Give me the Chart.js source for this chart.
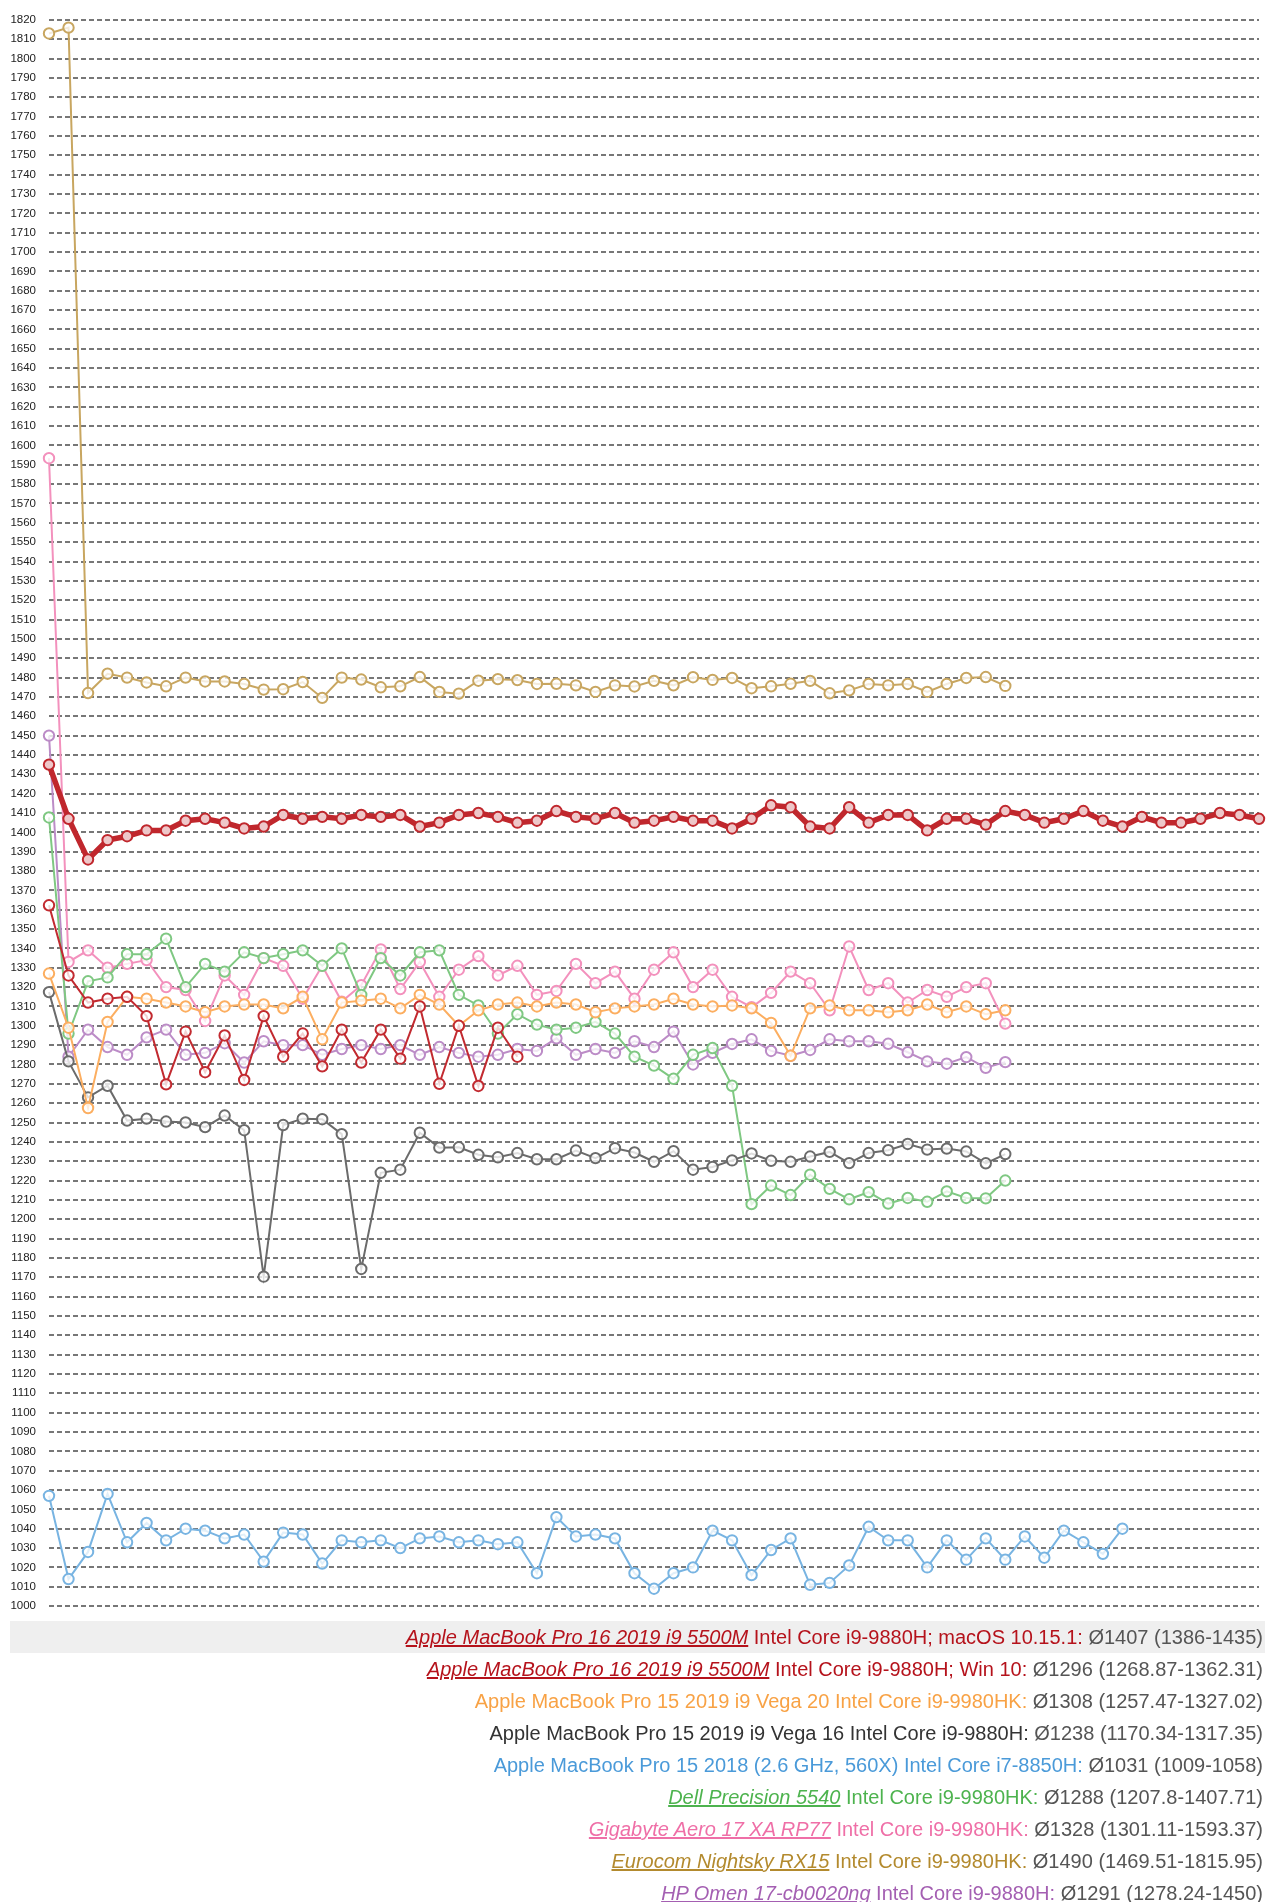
<!DOCTYPE html>
<html>
<head>
<meta charset="utf-8">
<title>Cinebench Schleife</title>
<script src="https://cdn.jsdelivr.net/npm/chart.js@4/dist/chart.umd.min.js"></script>
<style>
    body { margin: 0; background: #fff; font-family: "Liberation Sans", Arial, Helvetica, sans-serif; }
    #chart-box { position: absolute; left: 0; top: 0; width: 1270px; height: 1626px; }
    #leyenda { position: absolute; left: 10px; top: 1621px; width: 1255px; }
    .fila { height: 32px; line-height: 32px; font-size: 20px; text-align: right; padding-right: 2px; white-space: nowrap; }
    .fila.activa { background: #efefef; }
    .fila a { font-style: italic; text-decoration: underline; }
    .fila .media { color: #555; }
</style>
</head>
<body>
<div id="chart-box"><canvas id="grafico"></canvas></div>
<div id="leyenda"></div>

<script>
// eje y
const yMin = 1000;
const yMax = 1820;
const yPaso = 10;

// corridas (eje x oculto)
const corridas = [1, 2, 3, 4, 5, 6, 7, 8, 9, 10, 11, 12, 13, 14, 15, 16, 17, 18, 19, 20,
    21, 22, 23, 24, 25, 26, 27, 28, 29, 30, 31, 32, 33, 34, 35, 36, 37, 38, 39, 40,
    41, 42, 43, 44, 45, 46, 47, 48, 49, 50, 51, 52, 53, 54, 55, 56, 57, 58, 59, 60,
    61, 62, 63];

const mbp16Mac = [1435, 1407, 1386, 1396, 1398, 1401, 1401, 1406, 1407, 1405, 1402, 1403, 1409, 1407, 1408, 1407,
    1409, 1408, 1409, 1403, 1405, 1409, 1410, 1408, 1405, 1406, 1411, 1408, 1407, 1410, 1405, 1406,
    1408, 1406, 1406, 1402, 1407, 1414, 1413, 1403, 1402, 1413, 1405, 1409, 1409, 1401, 1407, 1407,
    1404, 1411, 1409, 1405, 1407, 1411, 1406, 1403, 1408, 1405, 1405, 1407, 1410, 1409, 1407];

const mbp16Win = [1362.3, 1326, 1312, 1314, 1315, 1305, 1269.7, 1297, 1276, 1295, 1272, 1305, 1284,
    1296, 1279, 1298, 1281, 1298, 1283, 1310, 1270, 1300, 1268.9, 1299, 1284];

const mbp15Vega20 = [1327, 1299, 1257.5, 1302, 1315, 1314, 1312, 1310, 1307, 1310, 1311, 1311, 1309, 1315, 1293, 1312,
    1313, 1314, 1309, 1316, 1311, 1300, 1308, 1311, 1312, 1310, 1312, 1311, 1307, 1309, 1310, 1311,
    1314, 1311, 1310, 1310.5, 1309, 1301.5, 1284.5, 1309, 1310.5, 1308, 1308, 1307, 1308, 1311, 1307,
    1310, 1306, 1308];

const mbp15Vega16 = [1317.4, 1281.6, 1263, 1269, 1251, 1252, 1250.5, 1250, 1247.6, 1253.6, 1246, 1170.3, 1248.7,
    1252, 1251.7, 1244, 1174.3, 1224, 1225.6, 1244.7, 1237, 1237.2, 1233.3, 1232, 1234.2, 1231,
    1231, 1235.5, 1231.6, 1236.7, 1234.5, 1229.7, 1235.2, 1225.6, 1227, 1230.4, 1234, 1230.2, 1229.7,
    1232.4, 1234.8, 1229, 1234.2, 1235.7, 1238.9, 1236, 1236.5, 1235, 1228.9, 1233.7];

const mbp15_2018 = [1057, 1014, 1028, 1058, 1033, 1043, 1034, 1040, 1039, 1035, 1037, 1023, 1038, 1037, 1022, 1034,
    1033, 1034, 1030, 1035, 1036, 1033, 1034, 1032, 1033, 1017, 1046, 1036, 1037, 1035, 1017, 1009,
    1017, 1020, 1039, 1034, 1016, 1029, 1035, 1011, 1012, 1021, 1041, 1034, 1034, 1020, 1034, 1024,
    1035, 1024, 1036, 1025, 1039, 1033, 1027, 1040];

const dell5540 = [1407.7, 1296, 1323, 1325, 1337, 1337, 1345, 1320, 1332, 1328, 1338, 1335, 1337, 1339, 1331, 1340,
    1316, 1335, 1326, 1338, 1339, 1316, 1310.5, 1296, 1306, 1300.6, 1298, 1299, 1302, 1296, 1284,
    1279.4, 1272.6, 1285, 1288.5, 1269, 1207.8, 1217.4, 1212.5, 1223, 1215.7, 1210.3, 1214, 1208.1,
    1211, 1209, 1214.4, 1211, 1210.8, 1220];

const aero17 = [1593.4, 1333, 1339, 1330, 1332, 1334, 1320, 1318.5, 1302.5, 1326, 1316, 1335, 1331, 1314, 1331,
    1312.5, 1321, 1339.5, 1319, 1333, 1315, 1329, 1336, 1326, 1331, 1316, 1318, 1332, 1322, 1328,
    1314, 1329, 1338, 1320, 1329, 1315, 1309.6, 1317, 1328, 1322, 1308, 1341, 1318.5, 1322, 1312,
    1318.5, 1315, 1320, 1322, 1301.1];

const nightsky = [1813, 1816, 1472, 1482, 1480, 1477.5, 1475.5, 1480, 1478, 1478, 1476.7, 1473.8, 1474, 1477.7,
    1469.5, 1480, 1479, 1475, 1475.5, 1480.3, 1472.6, 1471.7, 1478.4, 1479.2, 1478.7, 1476.7, 1476.8,
    1476, 1472.6, 1476, 1475.4, 1478.3, 1476, 1480.2, 1478.8, 1479.8, 1474.5, 1475.5, 1476.8, 1478.3,
    1471.9, 1473.4, 1476.7, 1476, 1476.7, 1472.6, 1476.7, 1479.8, 1480.3, 1475.7];

const omen17 = [1450, 1284, 1298, 1289, 1285, 1294, 1298, 1285, 1286, 1291, 1281, 1292, 1290, 1290, 1285, 1288,
    1290, 1288, 1290, 1285, 1289, 1286, 1284, 1285, 1288, 1287, 1293.5, 1285, 1288, 1286, 1292, 1289,
    1297, 1280, 1286, 1290.6, 1293, 1287, 1284.5, 1287.5, 1293, 1292, 1292, 1290.7, 1286.3, 1281.6,
    1280.4, 1283.8, 1278.3, 1281.2];

// series: datos, color de linea, color de texto, partes de la leyenda
const series = [
    { datos: mbp16Mac, linea: '#c0272d', texto: '#b5121b', relleno: '#eec7c9', grosor: 5.5,
      enlace: 'Apple MacBook Pro 16 2019 i9 5500M', resto: ' Intel Core i9-9880H; macOS 10.15.1: ', media: 'Ø1407 (1386-1435)' },
    { datos: mbp16Win, linea: '#c22a30', texto: '#b5121b', grosor: 2,
      enlace: 'Apple MacBook Pro 16 2019 i9 5500M', resto: ' Intel Core i9-9880H; Win 10: ', media: 'Ø1296 (1268.87-1362.31)' },
    { datos: mbp15Vega20, linea: '#fcae60', texto: '#f8a245', grosor: 2,
      enlace: null, resto: 'Apple MacBook Pro 15 2019 i9 Vega 20 Intel Core i9-9980HK: ', media: 'Ø1308 (1257.47-1327.02)' },
    { datos: mbp15Vega16, linea: '#6b6b6b', texto: '#333333', grosor: 2,
      enlace: null, resto: 'Apple MacBook Pro 15 2019 i9 Vega 16 Intel Core i9-9880H: ', media: 'Ø1238 (1170.34-1317.35)' },
    { datos: mbp15_2018, linea: '#78b4e2', texto: '#4a9ad9', grosor: 2,
      enlace: null, resto: 'Apple MacBook Pro 15 2018 (2.6 GHz, 560X) Intel Core i7-8850H: ', media: 'Ø1031 (1009-1058)' },
    { datos: dell5540, linea: '#7fc882', texto: '#4db34e', grosor: 2,
      enlace: 'Dell Precision 5540', resto: ' Intel Core i9-9980HK: ', media: 'Ø1288 (1207.8-1407.71)' },
    { datos: aero17, linea: '#f391bd', texto: '#ef6fa7', grosor: 2,
      enlace: 'Gigabyte Aero 17 XA RP77', resto: ' Intel Core i9-9980HK: ', media: 'Ø1328 (1301.11-1593.37)' },
    { datos: nightsky, linea: '#c8a660', texto: '#b38a2e', grosor: 2,
      enlace: 'Eurocom Nightsky RX15', resto: ' Intel Core i9-9980HK: ', media: 'Ø1490 (1469.51-1815.95)' },
    { datos: omen17, linea: '#bc8cc7', texto: '#a45fb2', grosor: 2,
      enlace: 'HP Omen 17-cb0020ng', resto: ' Intel Core i9-9880H: ', media: 'Ø1291 (1278.24-1450)' }
];

// leyenda en html
const leyenda = document.getElementById('leyenda');
leyenda.innerHTML = series.map((s, i) => `
    <div class="fila${i === 0 ? ' activa' : ''}" style="color:${s.texto}">${s.enlace ? `<a>${s.enlace}</a>` : ''}${s.resto}<span class="media">${s.media}</span></div>
`).join('');

new Chart(document.getElementById('grafico'), {
    type: 'line',
    data: {
        labels: corridas,
        datasets: series.map(s => ({
            label: s.resto,
            data: s.datos,
            borderColor: s.linea,
            borderWidth: s.grosor,
            tension: 0,
            pointRadius: 5.2,
            pointBorderWidth: 2,
            pointBorderColor: s.linea,
            pointBackgroundColor: s.relleno || 'rgba(255, 255, 255, 0.78)',
            fill: false
        }))
    },
    options: {
        responsive: true,
        maintainAspectRatio: false,
        animation: false,
        layout: { padding: { top: 19, bottom: 8, left: 0, right: 11 } },
        plugins: {
            legend: { display: false },
            tooltip: { enabled: false }
        },
        scales: {
            x: { display: false },
            y: {
                min: yMin,
                max: yMax,
                afterFit: (escala) => { escala.width = 49; },
                ticks: {
                    stepSize: yPaso,
                    padding: 13,
                    color: '#222',
                    font: { family: 'Liberation Sans', size: 11.5 },
                    callback: (valor) => String(valor)
                },
                grid: { color: '#777', lineWidth: 2, drawTicks: false },
                border: { display: false, dash: [5, 3] }
            }
        }
    }
});
</script>
</body>
</html>
